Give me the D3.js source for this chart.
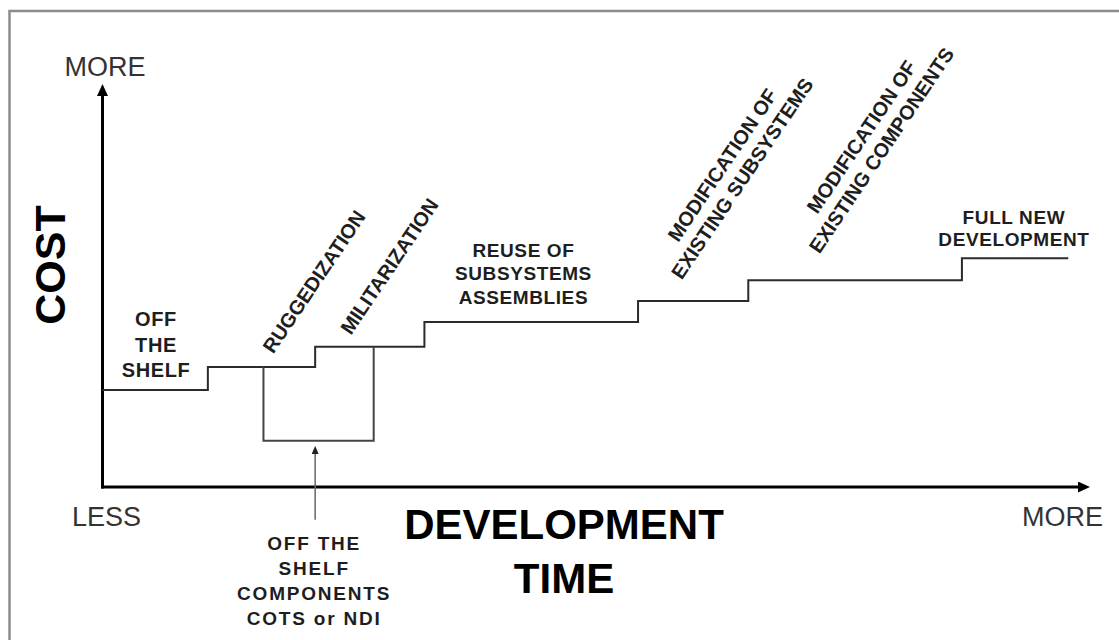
<!DOCTYPE html>
<html>
<head>
<meta charset="utf-8">
<script src="https://cdn.jsdelivr.net/npm/d3@7"></script>
<style>
  body { margin: 0; background: #fff; }
  svg { display: block; font-family: "Liberation Sans", Arial, sans-serif; }
</style>
</head>
<body>
<script>
// Cost vs development time staircase (abstract units 0..10 on both axes)
var stepTime = [0, 1.08, 2.18, 3.30, 5.49, 6.62, 8.81];
var stepCost = [2.48, 3.07, 3.59, 4.22, 4.76, 5.29, 5.85];
var endTime = 9.90;

// COTS / NDI dip below the ruggedization + militarization steps
var cotsTime = [1.65, 1.65, 2.78, 2.78];
var cotsCost = [3.07, 1.18, 1.18, 3.59];
var pointerTime = [2.18, 2.18];
var pointerCost = [-0.84, 1.05];

var phaseLabels = [
  ['OFF', 'THE', 'SHELF'],
  ['RUGGEDIZATION'],
  ['MILITARIZATION'],
  ['REUSE OF', 'SUBSYSTEMS', 'ASSEMBLIES'],
  ['MODIFICATION OF', 'EXISTING SUBSYSTEMS'],
  ['MODIFICATION OF', 'EXISTING COMPONENTS'],
  ['FULL NEW', 'DEVELOPMENT']
];
var cotsLabel = ['OFF THE', 'SHELF', 'COMPONENTS', 'COTS or NDI'];
var timeEnds = ['LESS', 'MORE'];
var costEnd = 'MORE';
var xTitle = ['DEVELOPMENT', 'TIME'];
var yTitle = 'COST';

var W = 1119, H = 640;
var x = d3.scaleLinear().domain([0, 10]).range([102.5, 1078]);
var y = d3.scaleLinear().domain([0, 10]).range([487, 96]);

var svg = d3.select('body').append('svg').attr('width', W).attr('height', H);

var defs = svg.append('defs');
defs.append('marker')
  .attr('id', 'axisArrow')
  .attr('viewBox', '0 0 12 11')
  .attr('refX', 0).attr('refY', 5.5)
  .attr('markerWidth', 12).attr('markerHeight', 11)
  .attr('markerUnits', 'userSpaceOnUse')
  .attr('orient', 'auto')
  .append('path').attr('d', 'M0,0L12,5.5L0,11Z').attr('fill', '#000');
defs.append('marker')
  .attr('id', 'smallArrow')
  .attr('viewBox', '0 0 8 7')
  .attr('refX', 0).attr('refY', 3.5)
  .attr('markerWidth', 8).attr('markerHeight', 7)
  .attr('markerUnits', 'userSpaceOnUse')
  .attr('orient', 'auto')
  .append('path').attr('d', 'M0,0L8,3.5L0,7Z').attr('fill', '#222');

// frame (right and bottom edges run off the picture)
svg.append('rect')
  .attr('x', 9.5).attr('y', 11)
  .attr('width', 1130).attr('height', 700)
  .attr('fill', 'none').attr('stroke', '#8c8c8c').attr('stroke-width', 2.5);

// axes
svg.append('line')
  .attr('x1', x(0)).attr('x2', x(0))
  .attr('y1', y(0) + 1.5).attr('y2', y(10))
  .attr('stroke', '#000').attr('stroke-width', 3)
  .attr('marker-end', 'url(#axisArrow)');
svg.append('line')
  .attr('x1', x(0) - 1.5).attr('x2', x(10))
  .attr('y1', y(0)).attr('y2', y(0))
  .attr('stroke', '#000').attr('stroke-width', 3)
  .attr('marker-end', 'url(#axisArrow)');

// staircase
var steps = stepTime.map((t, i) => ({t: t, c: stepCost[i]}));
steps.push({t: endTime, c: stepCost[stepCost.length - 1]});
var line = d3.line().x(d => x(d.t)).y(d => y(d.c));
svg.append('path')
  .datum(steps)
  .attr('d', line.curve(d3.curveStepAfter))
  .attr('fill', 'none').attr('stroke', '#2b2b2b').attr('stroke-width', 2);

// COTS box
var box = cotsTime.map((t, i) => ({t: t, c: cotsCost[i]}));
svg.append('path')
  .datum(box)
  .attr('d', d3.line().x(d => x(d.t)).y(d => y(d.c)))
  .attr('fill', 'none').attr('stroke', '#444').attr('stroke-width', 2);

// pointer from the COTS label
svg.append('line')
  .attr('x1', x(pointerTime[0])).attr('x2', x(pointerTime[1]))
  .attr('y1', y(pointerCost[0])).attr('y2', y(pointerCost[1]) + 8)
  .attr('stroke', '#666').attr('stroke-width', 1.5)
  .attr('marker-end', 'url(#smallArrow)');

// phase labels: placement relative to the step they describe
var placement = [
  {step: 0, dx: 53.5, dy: -64, gap: 25.5, angle: 0, size: 20},
  {step: 1, dx: 112, dy: -81.5, gap: 24, angle: -56, size: 20},
  {step: 2, dx: 80, dy: -76.5, gap: 24, angle: -56, size: 20},
  {step: 3, dx: 99, dy: -65, gap: 23.5, angle: 0, size: 19},
  {step: 4, dx: 90, dy: -132, gap: 24, angle: -56, size: 20},
  {step: 5, dx: 119, dy: -139.5, gap: 24, angle: -56, size: 20},
  {step: 6, dx: 52, dy: -34, gap: 22, angle: 0, size: 19}
];

phaseLabels.forEach((lines, i) => {
  var p = placement[i];
  var g = svg.append('g')
    .attr('transform', 'translate(' + (x(stepTime[p.step]) + p.dx) + ',' + (y(stepCost[p.step]) + p.dy) + ') rotate(' + p.angle + ')');
  g.selectAll('text')
    .data(lines).enter()
    .append('text')
    .attr('x', 0)
    .attr('y', (d, j) => j * p.gap)
    .attr('text-anchor', 'middle')
    .attr('font-size', p.size)
    .attr('font-weight', 'bold')
    .attr('letter-spacing', p.angle ? 0 : 0.6)
    .attr('fill', '#1e1e1e')
    .text(d => d);
});

// COTS label under the pointer
svg.append('g')
  .attr('transform', 'translate(' + (x(pointerTime[0]) - 1) + ',' + (y(pointerCost[0]) + 30) + ')')
  .selectAll('text')
  .data(cotsLabel).enter()
  .append('text')
  .attr('y', (d, j) => j * 25)
  .attr('text-anchor', 'middle')
  .attr('font-size', 19)
  .attr('font-weight', 'bold')
  .attr('letter-spacing', 1.8)
  .attr('fill', '#1e1e1e')
  .text(d => d);

// axis end labels
svg.append('text')
  .attr('x', x(0) + 2.5).attr('y', 76)
  .attr('text-anchor', 'middle')
  .attr('font-size', 27).attr('fill', '#333')
  .text(costEnd);
svg.selectAll('.endLabel')
  .data(timeEnds).enter()
  .append('text')
  .attr('class', 'endLabel')
  .attr('x', (d, i) => i ? x(10) - 15.5 : x(0) + 4)
  .attr('y', y(0) + 39)
  .attr('text-anchor', 'middle')
  .attr('font-size', 27).attr('fill', '#333')
  .text(d => d);

// axis titles
svg.selectAll('.xTitle')
  .data(xTitle).enter()
  .append('text')
  .attr('class', 'xTitle')
  .attr('x', 564)
  .attr('y', (d, i) => 539 + i * 54)
  .attr('text-anchor', 'middle')
  .attr('font-size', 42).attr('font-weight', 'bold')
  .attr('fill', '#000')
  .text(d => d);
svg.append('text')
  .attr('transform', 'translate(65,265) rotate(-90)')
  .attr('text-anchor', 'middle')
  .attr('font-size', 43).attr('font-weight', 'bold')
  .attr('fill', '#000')
  .text(yTitle);
</script>
</body>
</html>
